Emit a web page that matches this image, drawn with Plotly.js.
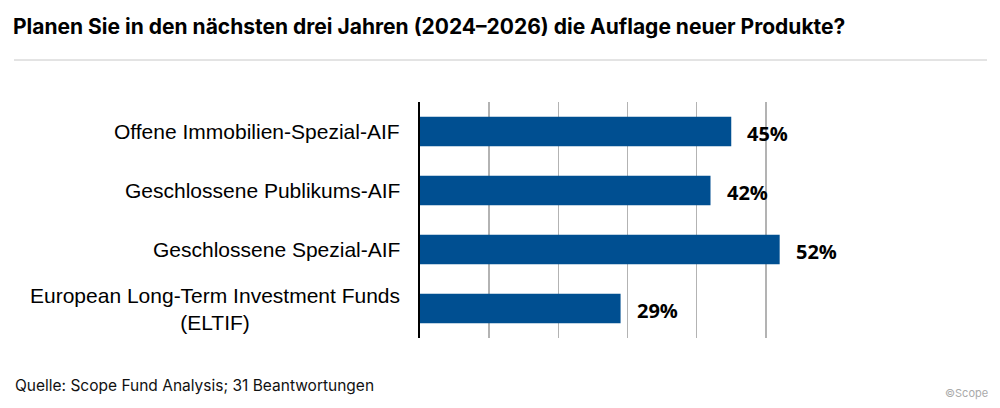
<!DOCTYPE html>
<html>
<head>
<meta charset="utf-8">
<script src="https://cdn.plot.ly/plotly-3.0.1.min.js"></script>
<style>html,body{margin:0;padding:0;background:#fff;}#chart{width:1000px;height:408px;}</style>
</head>
<body>
<div id="chart"></div>
<script>
const categories = [
  "Offene Immobilien-Spezial-AIF",
  "Geschlossene Publikums-AIF",
  "Geschlossene Spezial-AIF",
  "European Long-Term Investment Funds<br>(ELTIF)"
];
const values = [45, 42, 52, 29];
const valueLabels = values.map(v => v + "%");

const W = 1000, H = 408;
const L = 420, R = 835, T = 102, B = 338;
const px = x => (x - L) / (R - L);
const py = y => (B - y) / (B - T);

const trace = {
  type: "bar",
  orientation: "h",
  x: values,
  y: categories,
  width: 0.5,
  marker: {color: "#004f91", line: {width: 0}},
  hoverinfo: "none"
};

const annotations = values.map((v, i) => ({
  x: v, y: categories[i], xref: "x", yref: "y",
  text: "<b>" + valueLabels[i] + "</b>", showarrow: false,
  xanchor: "left", yanchor: "middle", xshift: 14, yshift: -2,
  font: {family: "Open Sans", size: 20, color: "#000"}
}));
categories.forEach(c => annotations.push({
  x: 0, y: c, xref: "paper", yref: "y",
  text: c, showarrow: false, align: "center",
  xanchor: "right", yanchor: "middle", xshift: -18,
  font: {family: "Liberation Sans", size: 21, color: "#000"}
}));
annotations.push({
  xref: "paper", yref: "paper", x: px(13), y: py(385),
  xanchor: "left", yanchor: "middle", showarrow: false,
  text: "Quelle: Scope Fund Analysis; 31 Beantwortungen",
  font: {family: "Inter", size: 15.5, color: "#111"}
});
annotations.push({
  xref: "paper", yref: "paper", x: px(990), y: py(393),
  xanchor: "right", yanchor: "middle", showarrow: false,
  text: "©Scope",
  font: {family: "Inter", size: 11, color: "#aaa"}
});

const layout = {
  width: W, height: H,
  margin: {l: L, r: W - R, t: T, b: H - B, pad: 0},
  paper_bgcolor: "#fff", plot_bgcolor: "#fff",
  showlegend: false,
  title: {
    text: "<b>Planen Sie in den nächsten drei Jahren (2024–2026) die Auflage neuer Produkte?</b>",
    x: 13 / W, xanchor: "left", xref: "container",
    y: 1 - 27 / H, yanchor: "middle", yref: "container",
    font: {family: "Inter", size: 21, color: "#000"}
  },
  xaxis: {
    range: [0, 60], dtick: 10, showticklabels: false,
    showgrid: true, gridcolor: "#b3b3b3", gridwidth: 1.5,
    zeroline: false, showline: false, fixedrange: true
  },
  yaxis: {
    autorange: "reversed", type: "category",
    showline: true, linecolor: "#000", linewidth: 2,
    ticks: "", showticklabels: false,
    showgrid: false, zeroline: false, fixedrange: true
  },
  shapes: [{
    type: "line", xref: "paper", yref: "paper",
    x0: px(14), x1: px(987), y0: py(60), y1: py(60),
    line: {color: "#c8c8c8", width: 1}
  }],
  annotations: annotations
};

Plotly.newPlot("chart", [trace], layout, {displayModeBar: false, staticPlot: true});
</script>
</body>
</html>
